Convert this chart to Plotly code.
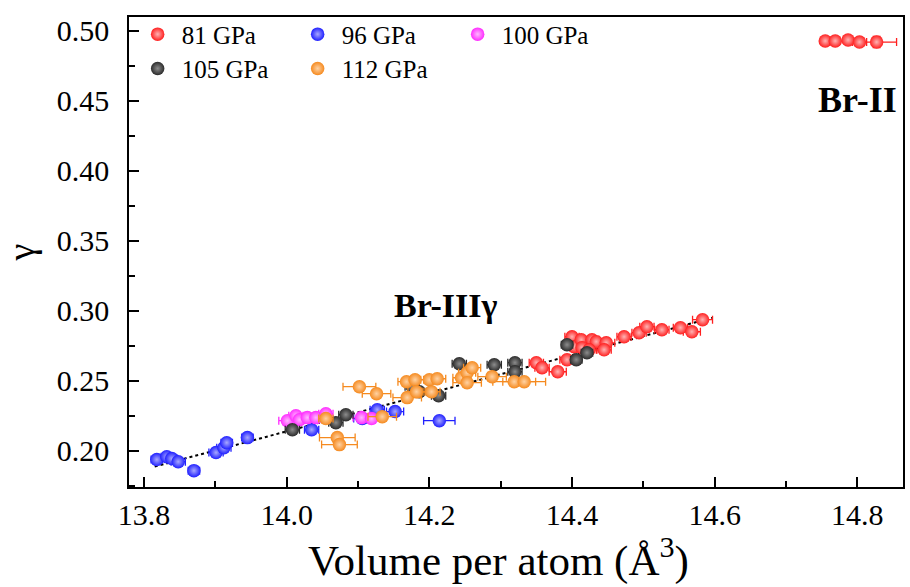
import plotly.graph_objects as go

# ---- data: volume per atom (Å^3) and gamma, with x / y uncertainties ----
p81_v = [14.350, 14.358, 14.380, 14.393, 14.400, 14.403, 14.413, 14.428, 14.414, 14.434,
         14.424, 14.448, 14.445, 14.473, 14.494, 14.505, 14.526, 14.552, 14.568, 14.583]
p81_g = [0.2629, 0.2593, 0.2564, 0.2650, 0.2814, 0.2743, 0.2793, 0.2793, 0.2736, 0.2779,
         0.2721, 0.2771, 0.2721, 0.2814, 0.2843, 0.2886, 0.2864, 0.2879, 0.2850, 0.2936]
p81_dv = [0.010, 0.010, 0.012, 0.010, 0.010, 0.010, 0.010, 0.010, 0.010, 0.010,
          0.010, 0.012, 0.010, 0.010, 0.010, 0.010, 0.010, 0.010, 0.012, 0.014]
p81_dg = [0.002] * 20

# Br-II phase points (81 GPa)
br2_v = [14.755, 14.769, 14.787, 14.803, 14.827]
br2_g = [0.4929, 0.4929, 0.4936, 0.4921, 0.4921]
br2_dv = [0.006, 0.006, 0.006, 0.010, 0.028]
br2_dg = [0.001, 0.001, 0.001, 0.003, 0.004]

p96_v = [13.818, 13.832, 13.839, 13.848, 13.870, 13.901, 13.912, 13.916, 13.945,
         14.035, 14.106, 14.127, 14.152, 14.214]
p96_g = [0.1936, 0.1957, 0.1943, 0.1921, 0.1857, 0.1986, 0.2021, 0.2057, 0.2093,
         0.2150, 0.2229, 0.2293, 0.2279, 0.2214]
p96_dv = [0.008, 0.008, 0.008, 0.010, 0.008, 0.010, 0.010, 0.008, 0.008,
          0.010, 0.012, 0.010, 0.012, 0.022]
p96_dg = [0.002] * 14

p100_v = [14.001, 14.013, 14.018, 14.029, 14.041, 14.055, 14.105, 14.119]
p100_g = [0.2214, 0.2250, 0.2221, 0.2236, 0.2236, 0.2264, 0.2236, 0.2229]
p100_dv = [0.012, 0.010, 0.010, 0.010, 0.010, 0.010, 0.012, 0.012]
p100_dg = [0.002] * 8

p105_v = [14.008, 14.069, 14.083, 14.176, 14.186, 14.213, 14.242, 14.291, 14.320,
          14.320, 14.393, 14.406, 14.421]
p105_g = [0.2150, 0.2200, 0.2257, 0.2457, 0.2421, 0.2393, 0.2621, 0.2614, 0.2629,
          0.2564, 0.2757, 0.2650, 0.2700]
p105_dv = [0.010, 0.010, 0.010, 0.010, 0.010, 0.010, 0.010, 0.010, 0.010,
           0.010, 0.008, 0.008, 0.008]
p105_dg = [0.002] * 13

p112_v = [14.055, 14.071, 14.074, 14.102, 14.126, 14.134, 14.168, 14.180, 14.169, 14.182,
          14.200, 14.211, 14.203, 14.245, 14.253, 14.260, 14.253, 14.288, 14.319, 14.333]
p112_g = [0.2229, 0.2093, 0.2043, 0.2457, 0.2407, 0.2243, 0.2493, 0.2507, 0.2379, 0.2421,
          0.2507, 0.2514, 0.2421, 0.2521, 0.2557, 0.2593, 0.2486, 0.2529, 0.2493, 0.2493]
p112_dv = [0.010, 0.025, 0.025, 0.023, 0.020, 0.020, 0.012, 0.012, 0.020, 0.012,
           0.012, 0.012, 0.012, 0.012, 0.012, 0.012, 0.020, 0.020, 0.030, 0.030]
p112_dg = [0.002] * 20

# linear trend of the Br-IIIγ phase (end points of the guide line)
trend_v = [13.815, 14.597]
trend_g = [0.1886, 0.2950]

x_ticks = [13.8, 14.0, 14.2, 14.4, 14.6, 14.8]
y_ticks = [0.20, 0.25, 0.30, 0.35, 0.40, 0.45, 0.50]

FONT = "Liberation Serif, Times New Roman, serif"

series = [
    ("81 GPa", "#ff1f1f", "#ffb3b3", p81_v, p81_g, p81_dv, p81_dg, "legend"),
    ("96 GPa", "#2020ff", "#a8a8ff", p96_v, p96_g, p96_dv, p96_dg, "legend"),
    ("100 GPa", "#ff2bff", "#ffb8ff", p100_v, p100_g, p100_dv, p100_dg, "legend"),
    ("105 GPa", "#2b2b2b", "#8c8c8c", p105_v, p105_g, p105_dv, p105_dg, "legend2"),
    ("112 GPa", "#f58a1f", "#ffd2a3", p112_v, p112_g, p112_dv, p112_dg, "legend2"),
]

fig = go.Figure()

fig.add_trace(go.Scatter(x=trend_v, y=trend_g, mode="lines",
                         line=dict(color="black", width=2, dash="dot"),
                         showlegend=False, hoverinfo="skip"))


def marker(col, hi):
    return dict(size=13.5, color=col, line=dict(width=0),
                gradient=dict(type="radial", color=hi))


def err(arr, col):
    return dict(type="data", array=arr, color=col, thickness=1.3, width=4)


for name, col, hi, v, g, dv, dg, lg in series:
    fig.add_trace(go.Scatter(
        x=v, y=g, mode="markers", name=name, legend=lg,
        marker=marker(col, hi), error_x=err(dv, col), error_y=err(dg, col),
    ))

# Br-II points share the 81 GPa style
fig.add_trace(go.Scatter(
    x=br2_v, y=br2_g, mode="markers", showlegend=False,
    marker=marker("#ff1f1f", "#ffb3b3"),
    error_x=err(br2_dv, "#ff1f1f"), error_y=err(br2_dg, "#ff1f1f"),
))

fig.add_annotation(x=14.80, y=0.451, text="<b>Br-II</b>", showarrow=False,
                   font=dict(family=FONT, size=36, color="black"))
fig.add_annotation(x=14.224, y=0.304, text="<b>Br-IIIγ</b>", showarrow=False,
                   font=dict(family=FONT, size=34, color="black"))

# x-axis title, set slightly left of the plot centre
fig.add_annotation(xref="paper", yref="paper", x=0.4768, y=-0.150,
                   xanchor="center", yanchor="middle", showarrow=False,
                   text="Volume per atom (Å<sup>3</sup>)",
                   font=dict(family=FONT, size=43, color="black"))

axis_common = dict(showline=True, linecolor="black", linewidth=1.5, mirror=True,
                   ticks="inside", ticklen=10, tickwidth=1.5, tickcolor="black",
                   showgrid=False, zeroline=False,
                   tickfont=dict(family=FONT, size=30, color="black"))

fig.update_xaxes(range=[13.779, 14.864], tickvals=x_ticks,
                 ticktext=[f"{t:.1f}" for t in x_ticks],
                 minor=dict(dtick=0.1, tick0=13.8, ticks="inside", ticklen=6,
                            tickwidth=1.5, tickcolor="black"),
                 **axis_common)
fig.update_yaxes(range=[0.174, 0.51], tickvals=y_ticks,
                 ticktext=[f"{t:.2f}" for t in y_ticks],
                 ticklabelstandoff=12,
                 minor=dict(dtick=0.025, tick0=0.2, ticks="inside", ticklen=6,
                            tickwidth=1.5, tickcolor="black"),
                 title=dict(text="γ", font=dict(family=FONT, size=38, color="black"),
                            standoff=10),
                 **axis_common)

legend_common = dict(orientation="h", xanchor="left", yanchor="middle",
                     bgcolor="rgba(0,0,0,0)", entrywidth=107, entrywidthmode="pixels",
                     font=dict(family=FONT, size=25, color="black"), itemwidth=38)

fig.update_layout(
    width=910, height=587,
    font=dict(family=FONT, color="black"),
    margin=dict(l=129, r=5, t=17, b=100),
    plot_bgcolor="white", paper_bgcolor="white",
    legend=dict(x=0.006, y=0.963, **legend_common),
    legend2=dict(x=0.006, y=0.890, **legend_common),
)

fig.write_html("out.html")
